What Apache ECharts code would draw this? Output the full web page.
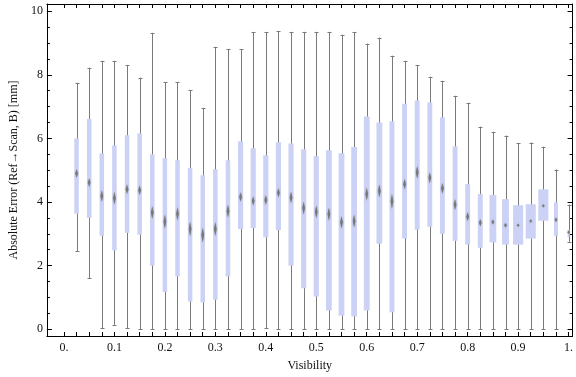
<!DOCTYPE html>
<html>
<head>
<meta charset="utf-8">
<script src="https://cdn.jsdelivr.net/npm/echarts@6/dist/echarts.min.js"></script>
<style>
html,body{margin:0;padding:0;background:#fff;}
#chart{width:576px;height:377px;}
</style>
</head>
<body>
<div id="chart"></div>
<script>
// ---- data ----
const visibility = [0.025,0.05,0.075,0.1,0.125,0.15,0.175,0.2,0.225,0.25,0.275,0.3,0.325,0.35,0.375,0.4,0.425,0.45,0.475,0.5,0.525,0.55,0.575,0.6,0.625,0.65,0.675,0.7,0.725,0.75,0.775,0.8,0.825,0.85,0.875,0.9,0.925,0.95,0.975,1.0];
const whiskerMax = [7.75,8.22,8.44,8.44,8.31,7.91,9.32,7.76,7.76,7.51,6.96,8.88,8.81,8.81,9.35,9.35,9.37,9.35,9.35,9.35,9.35,9.26,9.35,8.98,9.17,8.60,8.44,8.31,7.94,7.81,7.34,7.12,6.37,6.21,6.09,5.84,5.87,5.74,5.02,3.92];
const quart3 = [6.00,6.61,5.53,5.78,6.10,6.16,5.50,5.38,5.31,5.08,4.84,5.03,5.31,5.91,5.69,5.47,5.88,5.84,5.66,5.44,5.63,5.53,5.73,6.69,6.50,6.54,7.09,7.19,7.13,6.66,5.75,4.56,4.25,4.22,4.09,3.90,3.93,4.40,3.99,3.13];
const medians = [4.90,4.61,4.19,4.12,4.40,4.37,3.67,3.38,3.63,3.15,2.96,3.15,3.71,4.16,4.03,4.06,4.29,4.14,3.81,3.69,3.62,3.36,3.40,4.25,4.35,4.02,4.56,4.93,4.76,4.43,3.92,3.54,3.35,3.37,3.27,3.27,3.40,3.88,3.44,3.05];
const quart1 = [3.63,3.50,2.94,2.48,3.03,2.97,2.00,1.17,1.66,0.87,0.84,0.93,1.66,3.15,3.18,2.89,3.12,2.00,1.29,1.03,0.59,0.43,0.40,0.59,2.69,0.53,2.85,3.13,3.22,3.00,2.78,2.66,2.56,2.73,2.66,2.66,2.85,3.41,2.94,2.89];
const whiskerMin = [2.45,1.60,0.04,0.14,0.03,0,0,0,0,0,0,0,0,0,0,0.04,0,0,0,0,0,0,0,0,0,0,0,0,0,0,0,0,0,0,0,0,0,0,0,2.75];
// relative box width (sample weight) and median notch half-height
const relWidth = [0.36,0.36,0.36,0.36,0.36,0.36,0.36,0.36,0.36,0.36,0.36,0.36,0.36,0.41,0.41,0.41,0.41,0.41,0.41,0.41,0.46,0.46,0.46,0.46,0.46,0.39,0.39,0.39,0.39,0.39,0.39,0.39,0.39,0.54,0.54,0.8,0.8,0.8,0.31,0.15];
const notchHalf = [0.13,0.13,0.18,0.2,0.15,0.15,0.2,0.22,0.2,0.23,0.23,0.22,0.2,0.15,0.14,0.15,0.14,0.18,0.2,0.2,0.2,0.2,0.2,0.2,0.2,0.23,0.16,0.2,0.17,0.17,0.17,0.14,0.11,0.08,0.07,0.05,0.05,0.05,0.07,0.05];
// ticks
const xLabelValues = [0,0.1,0.2,0.3,0.4,0.5,0.6,0.7,0.8,0.9,1.0];
const xTickValues = [];
for (let k = 0; k <= 40; k++) xTickValues.push(+(k*0.025).toFixed(3));
const yMajor = [0,2,4,6,8,10];
const yMinor = [0.5,1,1.5,2.5,3,3.5,4.5,5,5.5,6.5,7,7.5,8.5,9,9.5];
const BIN = 0.025;

const XMIN = -0.0338, XMAX = 1.0079, YMIN = -0.213, YMAX = 10.226;

const data = visibility.map((v,i)=>[v, whiskerMin[i], quart1[i], medians[i], quart3[i], whiskerMax[i], relWidth[i], notchHalf[i]]);

const FONT = 'Liberation Serif';
const chart = echarts.init(document.getElementById('chart'), null, {renderer:'canvas'});

function xAxisBase(pos, labels){
  return {
    type:'value', position:pos, min:XMIN, max:XMAX,
    axisLine:{show:true, onZero:false, lineStyle:{color:'#000', width:1}},
    axisTick:{show:true, inside:true, length:4, customValues:xTickValues, lineStyle:{color:'#000'}},
    axisLabel:{show:labels, customValues:xLabelValues, margin:6, color:'#111', fontFamily:FONT, fontSize:12,
      formatter:function(v){ if (Math.abs(v) < 1e-9) return '0.'; if (Math.abs(v-1) < 1e-9) return '1.'; return v.toFixed(1); }},
    splitLine:{show:false}
  };
}
function yAxisBase(pos, vals, len, labels, line){
  return {
    type:'value', position:pos, min:YMIN, max:YMAX,
    axisLine:{show:line, onZero:false, lineStyle:{color:'#000', width:1}},
    axisTick:{show:true, inside:true, length:len, customValues:vals, lineStyle:{color:'#000'}},
    axisLabel:{show:labels, customValues:vals, margin:4, color:'#111', fontFamily:FONT, fontSize:12},
    splitLine:{show:false}
  };
}

const xBottom = xAxisBase('bottom', true);
xBottom.name = 'Visibility';
xBottom.nameLocation = 'middle';
xBottom.nameGap = 24;
xBottom.nameTextStyle = {fontFamily:FONT, fontSize:12, color:'#111'};

const yLeft = yAxisBase('left', yMajor, 5, true, true);
yLeft.name = 'Absolute Error (Ref\u2192Scan, B) [mm]';
yLeft.nameLocation = 'middle';
yLeft.nameGap = 23;
yLeft.nameTextStyle = {fontFamily:FONT, fontSize:12, color:'#111'};

const option = {
  animation:false,
  backgroundColor:'#fff',
  grid:{left:36, right:1, top:4, bottom:40, containLabel:false},
  xAxis:[xBottom, xAxisBase('top', false)],
  yAxis:[
    yLeft,
    yAxisBase('left', yMinor, 3, false, false),
    yAxisBase('right', yMajor, 5, false, true),
    yAxisBase('right', yMinor, 3, false, false)
  ],
  series:[{
    type:'custom',
    xAxisIndex:0, yAxisIndex:0,
    clip:true,
    data:data,
    renderItem:function(params, api){
      const x = api.value(0);
      const lo = api.coord([x, api.value(1)]);
      const q1 = api.coord([x, api.value(2)]);
      const md = api.coord([x, api.value(3)]);
      const q3 = api.coord([x, api.value(4)]);
      const hi = api.coord([x, api.value(5)]);
      const binPx = api.size([BIN, 0])[0];
      const bw = api.value(6) * binPx;
      const nh = api.size([0, api.value(7)])[1];
      const cx = Math.round(lo[0]) + 0.5;
      const cap = 2;
      const gray = '#7a7a7a';
      return {
        type:'group',
        children:[
          {type:'line', shape:{x1:cx, y1:lo[1], x2:cx, y2:hi[1]}, style:{stroke:gray, lineWidth:1}},
          {type:'line', shape:{x1:cx-cap, y1:Math.round(hi[1])+0.5, x2:cx+cap, y2:Math.round(hi[1])+0.5}, style:{stroke:gray, lineWidth:1}},
          {type:'line', shape:{x1:cx-cap, y1:Math.round(lo[1])+0.5, x2:cx+cap, y2:Math.round(lo[1])+0.5}, style:{stroke:gray, lineWidth:1}},
          {type:'rect', shape:{x:lo[0]-bw/2, y:q3[1], width:bw, height:q1[1]-q3[1]}, style:{fill:'#cbd2f5'}},
          {type:'polygon', shape:{points:[[md[0], md[1]-nh],[md[0]+1.3, md[1]],[md[0], md[1]+nh],[md[0]-1.3, md[1]]]},
            style:{fill:'#777777', shadowBlur:1.5, shadowColor:'rgba(110,110,110,0.7)'}}
        ]
      };
    }
  }]
};
chart.setOption(option);
</script>
</body>
</html>
